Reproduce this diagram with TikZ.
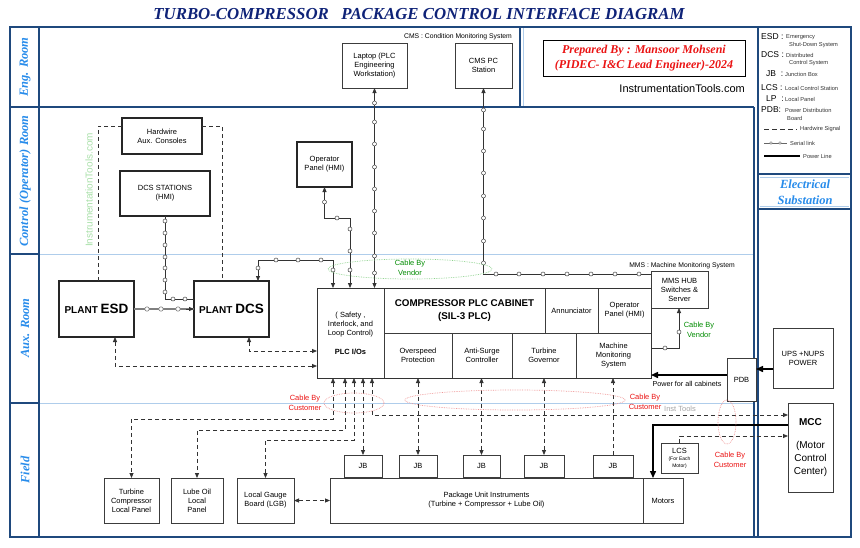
\documentclass[tikz,border=0pt]{standalone}
\usepackage{fontspec}
\setmainfont{Liberation Sans}
\newfontfamily\serifb{Liberation Serif}
\usetikzlibrary{arrows.meta}
\definecolor{frm}{RGB}{31,73,125}
\definecolor{roomc}{RGB}{40,140,235}
\definecolor{titlec}{RGB}{15,35,120}
\definecolor{lightln}{RGB}{175,205,235}
\definecolor{boxc}{RGB}{60,60,60}
\definecolor{vend}{RGB}{0,140,0}
\definecolor{cust}{RGB}{235,20,20}
\definecolor{custl}{RGB}{240,150,150}
\definecolor{vendl}{RGB}{140,210,140}
\definecolor{wmark}{RGB}{170,225,170}
\newcommand\mkbox[7]{\node[#1, minimum width={(#5-#3)*1pt}, minimum height={(#6-#4)*1pt}] (#2) at ({(#3+#5)/2},{(#4+#6)/2}) {#7};}
\newcommand\scirc[1]{\filldraw[fill=white, draw=black!75, line width=0.5pt] #1 circle[radius=2pt];}
\newcommand\gcirc[1]{\filldraw[fill=white, draw=black!50, line width=0.6pt] #1 circle[radius=2.2pt];}
\begin{document}
\begin{tikzpicture}[x=1pt,y=-1pt,
  >={Triangle[length=5pt,width=4pt]},
  box/.style={draw=boxc, line width=0.8pt, fill=white, inner sep=1pt, outer sep=0pt, align=center, font=\fontsize{7.5}{9}\selectfont},
  tbox/.style={box, line width=1.3pt, draw=black!85},
  hw/.style={draw=black!80, line width=0.8pt, dash pattern=on 4pt off 3pt},
  ser/.style={draw=black!80, line width=0.8pt},
  gser/.style={draw=black!50, line width=1.6pt},
  pwr/.style={draw=black, line width=1.4pt, -{Triangle[length=7pt,width=6pt]}},
  fr/.style={draw=frm, line width=2pt},
  lt/.style={draw=lightln, line width=0.7pt},
  room/.style={rotate=90, text=roomc, font=\serifb\bfseries\itshape\fontsize{12.5}{14}\selectfont},
  lab/.style={inner sep=0pt, align=center, font=\fontsize{7.5}{9.5}\selectfont},
  lgA/.style={anchor=west, inner sep=0pt, font=\fontsize{8.5}{9}\selectfont},
  lgB/.style={anchor=west, inner sep=0pt, text=black!80, font=\fontsize{5.7}{6}\selectfont},
  redl/.style={lab, text=cust},
  grnl/.style={lab, text=vend}
]
\useasboundingbox[fill=white] (0,0) rectangle (860,547);

% ---------- title
\node[text=titlec, font=\serifb\bfseries\itshape\fontsize{16.8}{18}\selectfont] (title) at (419,14) {TURBO-COMPRESSOR\ \ \ PACKAGE CONTROL INTERFACE DIAGRAM};

% ---------- frame
\draw[lt] (39,254) -- (755,254);
\draw[lt] (39,403) -- (755,403);
\draw[lt] (523,28) -- (523,106);
\draw[lt] (760,177) -- (849,177);
\draw[lt] (760,206) -- (849,206);
\draw[fr] (10,27) rectangle (851,537);
\draw[fr] (39,27) -- (39,537);
\draw[fr] (10,107) -- (754,107);
\draw[fr] (520,27) -- (520,107);
\draw[fr] (754,107) -- (754,537);
\draw[fr] (757.5,27) -- (757.5,537);
\draw[fr] (757.5,174) -- (851,174);
\draw[fr] (757.5,209) -- (851,209);
\draw[fr] (10,254) -- (39,254);
\draw[fr] (10,403) -- (39,403);

\node[room] (rEng) at (25,67) {Eng. Room};
\node[room] (rCtl) at (25,181) {Control (Operator) Room};
\node[room] (rAux) at (25,328) {Aux. Room};
\node[room] (rFld) at (25,470) {Field};
\node[text=roomc, align=center, font=\serifb\bfseries\itshape\fontsize{12.5}{16.5}\selectfont] (rEl) at (805,192) {Electrical\\Substation};

% ---------- top right
\node[draw=black, line width=1pt, minimum width=202pt, minimum height=36pt, inner sep=0pt, align=center, text=cust, font=\serifb\bfseries\itshape\fontsize{12}{14.5}\selectfont] (prep) at (644,58) {Prepared By : Mansoor Mohseni\\(PIDEC- I\&C Lead Engineer)-2024};
\node[anchor=east, inner sep=0pt, font=\fontsize{11}{12}\selectfont] (site) at (745,89) {InstrumentationTools.com};

% ---------- legend
\node[lgA] (lg1) at (761,37) {ESD :};
\node[lgB] (lg1a) at (786,37.5) {Emergency};
\node[lgB] (lg1b) at (789,45.5) {Shut-Down System};
\node[lgA] (lg2) at (761,55) {DCS :};
\node[lgB] (lg2a) at (786,55.5) {Distributed};
\node[lgB] (lg2b) at (789,63.5) {Control System};
\node[lgA] (lg3) at (766,74) {JB\ \ :};
\node[lgB] (lg3a) at (785,74.5) {Junction Box};
\node[lgA] (lg4) at (761,88) {LCS :};
\node[lgB] (lg4a) at (785,88.5) {Local Control Station};
\node[lgA] (lg5) at (766,99) {LP\ \ :};
\node[lgB] (lg5a) at (785,99.5) {Local Panel};
\node[lgA] (lg6) at (761,110) {PDB:};
\node[lgB] (lg6a) at (785,110.5) {Power Distribution};
\node[lgB] (lg6b) at (787,118.5) {Board};
\draw[hw, dash pattern=on 5pt off 3pt] (764,129) -- (797,129);
\node[lgB] (lg7) at (800,129) {Hardwire Signal};
\draw[draw=black!60, line width=0.5pt] (764,143) -- (787,143);
\filldraw[fill=white, draw=black!60, line width=0.4pt] (771,143) circle[radius=1.3pt];
\filldraw[fill=white, draw=black!60, line width=0.4pt] (780,143) circle[radius=1.3pt];
\node[lgB] (lg8) at (790,143) {Serial link};
\draw[line width=1.2pt] (764,156) -- (800,156);
\node[lgB] (lg9) at (803,156) {Power Line};

% ---------- eng room
\mkbox{box}{lap}{342}{43}{407}{88}{Laptop (PLC\\Engineering\\Workstation)}
\mkbox{box}{cms}{455}{43}{512}{88}{CMS PC\\Station}
\node[inner sep=0pt, font=\fontsize{6.8}{8}\selectfont] (cmst) at (458,37) {CMS : Condition Monitoring System};

% ---------- control room
\node[rotate=90, text=wmark, inner sep=0pt, font=\fontsize{10}{11}\selectfont] (wm) at (89,190) {InstrumentationTools.com};
\mkbox{tbox}{aux}{122}{118}{202}{154}{Hardwire\\Aux. Consoles}
\mkbox{box, line width=1.1pt, draw=black!85}{dcsst}{120}{171}{210}{216}{DCS STATIONS\\(HMI)}
\mkbox{tbox}{opp}{297}{142}{352}{187}{Operator\\Panel (HMI)}

% ---------- aux room
\mkbox{tbox}{esd}{59}{281}{134}{337}{\bfseries\fontsize{10}{12}\selectfont PLANT \fontsize{13.5}{14}\selectfont ESD}
\mkbox{tbox}{dcs}{194}{281}{269}{337}{\bfseries\fontsize{10}{12}\selectfont PLANT \fontsize{13.5}{14}\selectfont DCS}

\mkbox{box}{plcio}{317}{288}{384}{378}{( Safety ,\\Interlock, and\\Loop Control)\\[10pt]\bfseries PLC I/Os}
\mkbox{box, font=\bfseries\fontsize{9.8}{12}\selectfont}{comp}{384}{288}{545}{333}{COMPRESSOR PLC CABINET\\[1.5pt](SIL-3 PLC)}
\mkbox{box}{ann}{545}{288}{598}{333}{Annunciator}
\mkbox{box}{opx}{598}{288}{651}{333}{Operator\\Panel (HMI)}
\mkbox{box}{ovs}{384}{333}{452}{378}{Overspeed\\Protection}
\mkbox{box}{asc}{452}{333}{512}{378}{Anti-Surge\\Controller}
\mkbox{box}{tgov}{512}{333}{576}{378}{Turbine\\Governor}
\mkbox{box}{mmsys}{576}{333}{651}{378}{Machine\\Monitoring\\System}
\draw[draw=black!80, line width=1pt] (plcio.north west) rectangle (mmsys.south east);

\mkbox{box}{hub}{651}{271}{708}{308}{MMS HUB\\Switches \&\\Server}
\node[inner sep=0pt, font=\fontsize{6.8}{8}\selectfont] (mmst) at (682,266) {MMS : Machine Monitoring System};
\mkbox{box}{pdb}{727}{358}{756}{401}{PDB}
\mkbox{box}{ups}{773}{328}{833}{388}{UPS +NUPS\\POWER}
\node[lab, font=\fontsize{7.2}{8}\selectfont] (pwrt) at (687,384) {Power for all cabinets};

% ---------- field
\mkbox{box, font=\fontsize{10}{11.5}\selectfont}{mcc}{788}{403}{833}{492}{\textbf{MCC}\\[12pt](Motor\\[1.5pt]Control\\[1.5pt]Center)}
\mkbox{box}{tcl}{104}{478}{159}{523}{Turbine\\Compressor\\Local Panel}
\mkbox{box}{lop}{171}{478}{223}{523}{Lube Oil\\Local\\Panel}
\mkbox{box}{lgb}{237}{478}{294}{523}{Local Gauge\\Board (LGB)}
\mkbox{box}{pui}{330}{478}{643}{523}{Package Unit Instruments\\(Turbine + Compressor + Lube Oil)}
\mkbox{box}{mot}{643}{478}{683}{523}{Motors}
\mkbox{box}{jb1}{344}{455}{382}{477}{JB}
\mkbox{box}{jb2}{399}{455}{437}{477}{JB}
\mkbox{box}{jb3}{463}{455}{500}{477}{JB}
\mkbox{box}{jb4}{524}{455}{564}{477}{JB}
\mkbox{box}{jb5}{593}{455}{633}{477}{JB}
\mkbox{box, font=\fontsize{5}{6.5}\selectfont}{lcs}{661}{443}{698}{473}{\fontsize{7.5}{8}\selectfont LCS\\[1pt](For Each\\Motor)}

% ---------- serial links
\draw[ser,<->] (lap.south) -- (lap.south |- plcio.north);
\foreach \yy in {103,122,144,167,189,211,233,256,273} {\scirc{(374.5,\yy)}}

\coordinate (cmsc) at (483.5,274);
\draw[ser,<-] (cms.south) -- (cmsc) -- (cmsc -| hub.west);
\foreach \yy in {110,129,151,173,196,218,241,263} {\scirc{(483.5,\yy)}}
\foreach \xx in {496,519,543,567,591,615,639} {\scirc{(\xx,274)}}

\coordinate (op1) at (350,218);
\coordinate (op2) at (324.5,218);
\draw[ser,<->] (opp.south) -- (op2) -- (op1) -- (op1 |- plcio.north);
\scirc{(324.5,202)} \scirc{(337,218)} \scirc{(350,229)} \scirc{(350,251)} \scirc{(350,270)}

\coordinate (d1) at (333,260);
\coordinate (d2) at (258,260);
\draw[ser,<->] (d2 |- dcs.north) -- (d2) -- (d1) -- (d1 |- plcio.north);
\scirc{(333,270)} \scirc{(321,260)} \scirc{(298,260)} \scirc{(276,260)} \scirc{(258,268)}

\coordinate (ds) at (165,299);
\draw[ser] (dcsst.south) -- (ds) -- (ds -| dcs.west);
\foreach \yy in {221,233,245,257,268,280,292} {\scirc{(165,\yy)}}
\scirc{(173,299)} \scirc{(185,299)}

\draw[gser] (esd.east) -- (dcs.west);
\draw[draw=black!80, line width=0.8pt, ->] ([xshift=-8pt]dcs.west) -- (dcs.west);
\gcirc{(147,309)} \gcirc{(161,309)} \gcirc{(178,309)}

\coordinate (m1) at (679,348);
\draw[ser,->] (m1 -| mmsys.east) -- (m1) -- (m1 |- hub.south);
\scirc{(665,348)} \scirc{(679,332)}

% ---------- hardwire
\coordinate (a1) at (98,126);
\coordinate (a2) at (222,126);
\draw[hw] (aux.west |- a1) -- (a1) -- (a1 |- esd.north);
\draw[hw] (aux.east |- a2) -- (a2) -- (a2 |- dcs.north);
\coordinate (h1) at (249,351);
\coordinate (h2) at (115,366);
\draw[hw,<->] (h1 |- dcs.south) -- (h1) -- (h1 -| plcio.west);
\draw[hw,<->] (h2 |- esd.south) -- (h2) -- (h2 -| plcio.west);

\coordinate (f1) at (333,419);
\coordinate (f2) at (345,430);
\coordinate (f3) at (354,440);
\coordinate (f5) at (372,415);
\draw[hw,<->] (f1 |- plcio.south) -- (f1) -- (f1 -| tcl.north) -- (tcl.north);
\draw[hw,<->] (f2 |- plcio.south) -- (f2) -- (f2 -| lop.north) -- (lop.north);
\draw[hw,<->] (f3 |- plcio.south) -- (f3) -- (f3 -| lgb.north) -- (lgb.north);
\draw[hw,<->] (jb1.north |- plcio.south) -- (jb1.north);
\draw[hw,<->] (f5 |- plcio.south) -- (f5) -- (f5 -| mcc.west);
\draw[hw,<->] (ovs.south) -- (jb2.north);
\draw[hw,<->] (asc.south -| jb3.north) -- (jb3.north);
\draw[hw,<->] (tgov.south) -- (jb4.north);
\draw[hw,->] (jb5.north) -- (jb5.north |- mmsys.south);
\draw[hw,<->] (lgb.east) -- (pui.west);
\coordinate (lc) at (679.5,436);
\draw[hw,->] (lcs.north) -- (lc) -- (lc -| mcc.west);

% ---------- power
\coordinate (p1) at (700,375);
\coordinate (p2) at (765,369);
\coordinate (mc) at (653,425);
\draw[pwr] (p1 -| pdb.west) -- (p1 -| mmsys.east);
\draw[pwr] (p2 -| ups.west) -- (p2 -| pdb.east);
\draw[pwr] (mc -| mcc.west) -- (mc) -- (mc |- mot.north);

% ---------- cable ellipses and labels
\draw[vendl, densely dotted, line width=0.7pt] (410,269) ellipse [x radius=82pt, y radius=10pt];
\draw[custl, densely dotted, line width=0.7pt] (354,403) ellipse [x radius=30pt, y radius=10pt];
\draw[custl, densely dotted, line width=0.7pt] (515,400) ellipse [x radius=110pt, y radius=10pt];
\draw[custl, densely dotted, line width=0.7pt] (727,422) ellipse [x radius=9pt, y radius=22pt];
\node[grnl] (cv1) at (410,268) {Cable By\\Vendor};
\node[grnl] (cv2) at (699,330) {Cable By\\Vendor};
\node[redl] (cc1) at (305,403) {Cable By\\Customer};
\node[redl] (cc2) at (645,402) {Cable By\\Customer};
\node[redl] (cc3) at (730,460) {Cable By\\Customer};
\node[lab, text=black!35] (inst) at (680,409) {Inst Tools};
\end{tikzpicture}
\end{document}
